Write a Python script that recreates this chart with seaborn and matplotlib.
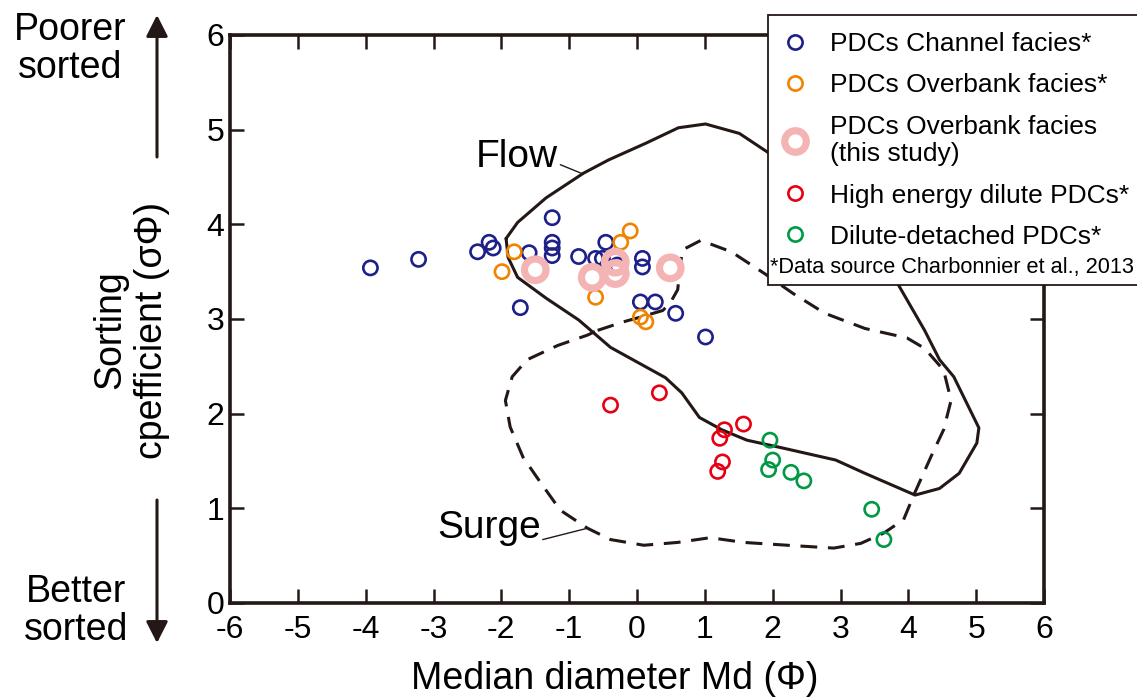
import numpy as np
import pandas as pd
import matplotlib
matplotlib.use("Agg")
import matplotlib.pyplot as plt
from matplotlib.lines import Line2D
from matplotlib.patches import Rectangle
import seaborn as sns

# Data (Md in phi, sorting coefficient)
channel_x = [-3.93, -3.22, -2.35, -2.18, -2.12, -1.59, -1.72, -1.25, -1.25, -1.25, -1.25,
             -0.86, -0.46, -0.61, -0.51, -0.29, 0.08, 0.08, 0.05, 0.27, 0.57, 1.01]
channel_y = [3.54, 3.63, 3.71, 3.81, 3.75, 3.70, 3.12, 4.07, 3.81, 3.75, 3.67,
             3.66, 3.81, 3.64, 3.64, 3.57, 3.64, 3.55, 3.18, 3.18, 3.06, 2.81]

overbank_x = [-1.81, -1.99, -0.61, -0.10, -0.24, 0.05, 0.13]
overbank_y = [3.71, 3.50, 3.23, 3.93, 3.81, 3.02, 2.97]

study_x = [-1.50, -0.66, -0.32, -0.32, 0.49]
study_y = [3.52, 3.44, 3.60, 3.48, 3.54]

high_x = [-0.39, 0.33, 1.57, 1.29, 1.22, 1.26, 1.19]
high_y = [2.09, 2.22, 1.89, 1.83, 1.74, 1.49, 1.39]

detached_x = [1.96, 2.00, 1.94, 2.27, 2.46, 3.46, 3.64]
detached_y = [1.72, 1.51, 1.41, 1.38, 1.29, 0.99, 0.67]

# Field outlines
flow_x = [-1.93, -1.76, -1.34, -0.79, -0.42, 0.14, 0.61, 1.01, 1.51, 1.93, 2.41, 3.15, 3.59,
          3.87, 4.24, 4.46, 4.67, 5.04, 5.01, 4.75, 4.46, 4.10, 3.36, 2.93, 2.13, 1.62,
          1.25, 0.92, 0.66, 0.42, 0.04, -0.39, -0.86, -1.34, -1.76, -1.90, -1.93]
flow_y = [3.85, 4.02, 4.28, 4.54, 4.68, 4.86, 5.02, 5.06, 4.96, 4.76, 4.49, 4.02, 3.67,
          3.34, 2.88, 2.57, 2.39, 1.85, 1.69, 1.37, 1.21, 1.14, 1.37, 1.51, 1.64, 1.72,
          1.83, 1.96, 2.22, 2.38, 2.53, 2.70, 2.99, 3.22, 3.44, 3.65, 3.85]

surge_x = [-0.58, -0.20, 0.05, 0.38, 0.49, 0.60, 0.64, 0.67, 0.94, 1.39, 1.88, 2.30, 2.77,
           3.36, 3.98, 4.24, 4.52, 4.63, 4.52, 4.33, 4.08, 3.93, 3.64, 3.30, 2.90, 2.22,
           1.57, 1.08, 0.60, 0.10, -0.39, -0.73, -1.13, -1.42, -1.68, -1.87, -1.94, -1.84,
           -1.62, -1.17, -0.73, -0.58]
surge_y = [2.88, 2.97, 3.02, 3.09, 3.17, 3.31, 3.57, 3.73, 3.83, 3.71, 3.48, 3.27, 3.06,
           2.90, 2.80, 2.69, 2.46, 2.14, 1.83, 1.54, 1.14, 0.88, 0.74, 0.63, 0.58, 0.61,
           0.64, 0.69, 0.64, 0.61, 0.67, 0.79, 0.98, 1.27, 1.54, 1.86, 2.14, 2.39,
           2.57, 2.72, 2.83, 2.88]

x_ticks = list(range(-6, 7))
y_ticks = list(range(0, 7))

groups = [
    ("PDCs Channel facies*", channel_x, channel_y, "#1d2088", 105, 1.9),
    ("PDCs Overbank facies*", overbank_x, overbank_y, "#f08300", 105, 1.9),
    ("PDCs Overbank facies\n(this study)", study_x, study_y, "#f4b4b4", 240, 5.2),
    ("High energy dilute PDCs*", high_x, high_y, "#e60012", 105, 1.9),
    ("Dilute-detached PDCs*", detached_x, detached_y, "#009944", 105, 1.9),
]

sns.set_theme(style="ticks")
plt.rcParams["font.family"] = ["Liberation Sans", "DejaVu Sans"]
plt.rcParams["text.color"] = "black"
ink = "#231815"

W, H = 1137, 699
fig = plt.figure(figsize=(W / 100, H / 100), dpi=100)
ax = fig.add_axes([230 / W, 1 - 603 / H, (1044 - 230) / W, (603 - 35) / H])

# outlines
sns.lineplot(x=flow_x, y=flow_y, sort=False, estimator=None, color=ink, lw=2.2, ax=ax)
sns.lineplot(x=surge_x, y=surge_y, sort=False, estimator=None, color=ink, lw=2.2,
             linestyle=(0, (5.5, 3.5)), ax=ax)

# points
for name, xs, ys, col, s, lw in groups:
    sns.scatterplot(x=xs, y=ys, color=col, facecolor="none", edgecolor=col,
                    s=s, linewidth=lw, ax=ax, zorder=3)

# field labels with leader lines
ax.text(-1.16, 4.71, "Flow", fontsize=28, ha="right", va="center")
ax.plot([-1.13, -0.79], [4.63, 4.53], color=ink, lw=1.0)
ax.text(-1.42, 0.79, "Surge", fontsize=28, ha="right", va="center")
ax.plot([-1.39, -0.73], [0.67, 0.79], color=ink, lw=1.0)

ax.set_xlim(-6, 6)
ax.set_ylim(0, 6)
ax.set_xticks(x_ticks)
ax.set_yticks(y_ticks)
ax.set_xticklabels([str(t) for t in x_ticks])
ax.tick_params(direction="in", length=10, width=1.8, color=ink, top=True, right=True,
               labelsize=23, labelcolor="black")
ax.tick_params(axis="x", pad=9)
ax.tick_params(axis="y", pad=4)
for sp in ax.spines.values():
    sp.set_linewidth(2.6)
    sp.set_color(ink)
ax.set_xlabel("")
ax.set_ylabel("")

# axis titles
fig.text(615 / W, 1 - 679 / H, "Median diameter Md (\u03a6)", fontsize=27, ha="center", va="center")
fig.text(131 / W, 1 - 330 / H, "Sorting\ncpefficient (\u03c3\u03a6)", fontsize=27, rotation=90,
         ha="center", va="center", multialignment="center", linespacing=1.2)

# sorted arrows
fig.text(70 / W, 1 - 49 / H, "Poorer\nsorted", fontsize=27, ha="center", va="center", linespacing=1.1)
fig.text(76 / W, 1 - 611 / H, "Better\nsorted", fontsize=27, ha="center", va="center", linespacing=1.1)
arrow = dict(arrowstyle="-|>,head_length=0.65,head_width=0.33", lw=2.2, color=ink,
             mutation_scale=20, shrinkA=0, shrinkB=0)
ax.annotate("", xy=(157 / W, 1 - 15 / H), xytext=(157 / W, 1 - 157 / H),
            xycoords="figure fraction", textcoords="figure fraction", arrowprops=arrow)
ax.annotate("", xy=(157 / W, 1 - 643 / H), xytext=(157 / W, 1 - 500 / H),
            xycoords="figure fraction", textcoords="figure fraction", arrowprops=arrow)

# legend box
box = Rectangle((768 / W, 1 - 285 / H), (1145 - 768) / W, (285 - 15) / H, transform=fig.transFigure,
                facecolor="white", edgecolor=ink, lw=1.3, zorder=4)
fig.add_artist(box)
handles = [Line2D([], [], marker="o", ls="", mfc="none", mec=col, mew=lw, ms=np.sqrt(s), label=name)
           for name, xs, ys, col, s, lw in groups]
fig.legend(handles=handles, loc="upper left", bbox_to_anchor=(770 / W, 1 - 27 / H),
           frameon=False, fontsize=19, borderaxespad=0, borderpad=0.2,
           handlelength=1.5, handletextpad=0.57, labelspacing=0.65)
fig.text(770 / W, 1 - 268 / H, "*Data source Charbonnier et al., 2013", fontsize=15.7,
         ha="left", va="center", zorder=6)

plt.savefig("out.png", dpi=100)
